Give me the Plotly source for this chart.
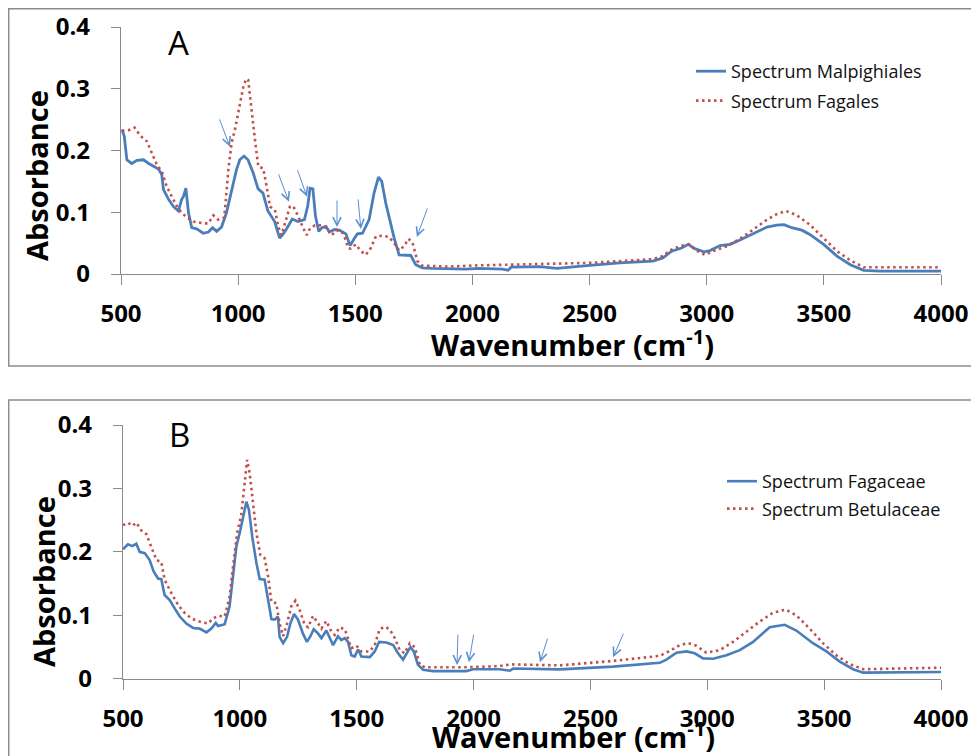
import plotly.graph_objects as go

# ---------------- Panel A data ----------------
malp_x = [504, 514, 525, 546, 568, 596, 618, 639, 660, 674, 681, 703, 724, 745, 759, 766, 777, 788, 802, 823,
          851, 873, 891, 908, 929, 950, 972, 993, 1007, 1025, 1042, 1064, 1085, 1106, 1127, 1156, 1177, 1191, 1205, 1231,
          1255, 1283, 1297, 1307, 1319, 1330, 1344, 1358, 1375, 1389, 1411, 1432, 1460, 1478, 1495, 1509, 1531, 1559, 1580, 1599,
          1613, 1630, 1647, 1666, 1687, 1715, 1737, 1758, 1786, 1829, 1970, 2027, 2130, 2152, 2165, 2288, 2360, 2501, 2629, 2770,
          2813, 2850, 2893, 2921, 2949, 2988, 3014, 3057, 3100, 3142, 3199, 3257, 3299, 3330, 3363, 3406, 3440, 3499, 3556, 3613,
          3670, 3741, 4000]
malp_y = [0.234, 0.223, 0.185, 0.179, 0.184, 0.185, 0.179, 0.174, 0.170, 0.161, 0.137, 0.121, 0.109, 0.102, 0.121, 0.125, 0.139, 0.099, 0.075, 0.073,
          0.066, 0.068, 0.075, 0.069, 0.076, 0.099, 0.137, 0.169, 0.185, 0.191, 0.185, 0.164, 0.138, 0.131, 0.102, 0.085, 0.058, 0.064, 0.072, 0.089,
          0.085, 0.088, 0.110, 0.139, 0.138, 0.094, 0.069, 0.075, 0.077, 0.068, 0.072, 0.071, 0.065, 0.046, 0.057, 0.065, 0.066, 0.088, 0.131, 0.157,
          0.150, 0.115, 0.088, 0.058, 0.031, 0.030, 0.030, 0.015, 0.010, 0.009, 0.008, 0.009, 0.008, 0.006, 0.011, 0.012, 0.009, 0.014, 0.018, 0.021,
          0.026, 0.037, 0.042, 0.048, 0.041, 0.036, 0.038, 0.046, 0.048, 0.055, 0.065, 0.076, 0.079, 0.080, 0.075, 0.071, 0.064, 0.048, 0.029, 0.015,
          0.006, 0.0045, 0.0045]

fag_x = [504, 533, 558, 582, 610, 632, 653, 674, 695, 716, 738, 759, 780, 809, 851, 873, 894, 915, 939, 944,
         958, 972, 986, 1008, 1022, 1034, 1043, 1051, 1062, 1072, 1086, 1107, 1122, 1136, 1157, 1171, 1185, 1200, 1221, 1235,
         1257, 1278, 1293, 1307, 1328, 1357, 1378, 1399, 1421, 1449, 1470, 1481, 1502, 1524, 1545, 1566, 1588, 1616, 1644, 1666,
         1687, 1708, 1727, 1744, 1765, 1786, 1899, 2027, 2158, 2501, 2770, 2813, 2842, 2885, 2925, 2956, 2992, 3028, 3085, 3142,
         3199, 3257, 3299, 3339, 3385, 3440, 3499, 3556, 3613, 3670, 4000]
fag_y = [0.232, 0.233, 0.237, 0.224, 0.215, 0.196, 0.177, 0.166, 0.142, 0.126, 0.110, 0.099, 0.092, 0.085, 0.082, 0.082, 0.095, 0.088, 0.091, 0.104,
         0.168, 0.212, 0.233, 0.276, 0.303, 0.316, 0.314, 0.287, 0.255, 0.217, 0.174, 0.171, 0.141, 0.109, 0.104, 0.077, 0.063, 0.082, 0.109, 0.110,
         0.093, 0.074, 0.063, 0.074, 0.079, 0.079, 0.074, 0.063, 0.071, 0.066, 0.042, 0.041, 0.048, 0.037, 0.031, 0.042, 0.061, 0.062, 0.060, 0.050,
         0.038, 0.045, 0.057, 0.051, 0.021, 0.0135, 0.012, 0.014, 0.015, 0.018, 0.024, 0.029, 0.038, 0.045, 0.048, 0.038, 0.031, 0.037, 0.045, 0.057,
         0.072, 0.088, 0.097, 0.102, 0.095, 0.080, 0.058, 0.037, 0.022, 0.011, 0.011]

# ---------------- Panel B data ----------------
fagac_x = [500, 521, 540, 557, 571, 593, 614, 631, 650, 664, 678, 700, 721, 743, 771, 800, 828, 857, 878, 897,
           907, 935, 956, 971, 985, 1002, 1018, 1028, 1039, 1053, 1071, 1085, 1106, 1121, 1135, 1149, 1163, 1170, 1185, 1202,
           1216, 1232, 1249, 1270, 1287, 1302, 1316, 1335, 1349, 1370, 1387, 1399, 1420, 1434, 1449, 1463, 1477, 1491, 1506, 1520,
           1556, 1577, 1596, 1627, 1656, 1677, 1698, 1715, 1730, 1744, 1762, 1784, 1827, 1969, 1998, 2112, 2155, 2169, 2369, 2597,
           2797, 2825, 2868, 2911, 2946, 2982, 3025, 3082, 3139, 3196, 3267, 3331, 3381, 3452, 3510, 3567, 3624, 3667, 4000]
fagac_y = [0.204, 0.212, 0.209, 0.213, 0.200, 0.198, 0.187, 0.169, 0.158, 0.157, 0.132, 0.124, 0.111, 0.098, 0.087, 0.080, 0.079, 0.073, 0.079, 0.088,
           0.083, 0.086, 0.114, 0.161, 0.208, 0.234, 0.263, 0.279, 0.266, 0.224, 0.182, 0.157, 0.156, 0.124, 0.094, 0.093, 0.098, 0.066, 0.056, 0.066,
           0.087, 0.102, 0.093, 0.071, 0.058, 0.067, 0.078, 0.071, 0.064, 0.076, 0.064, 0.053, 0.067, 0.061, 0.064, 0.058, 0.037, 0.035, 0.046, 0.035,
           0.034, 0.043, 0.058, 0.057, 0.053, 0.040, 0.030, 0.040, 0.050, 0.043, 0.022, 0.014, 0.012, 0.012, 0.015, 0.015, 0.0126, 0.016, 0.0147, 0.019,
           0.025, 0.030, 0.041, 0.043, 0.040, 0.032, 0.0315, 0.037, 0.045, 0.058, 0.081, 0.085, 0.076, 0.056, 0.043, 0.027, 0.015, 0.0095, 0.0105]

betul_x = [500, 521, 540, 557, 578, 600, 621, 643, 664, 678, 700, 728, 757, 792, 828, 864, 885, 907, 935, 956,
           971, 988, 1006, 1021, 1031, 1042, 1056, 1071, 1088, 1106, 1121, 1135, 1156, 1170, 1185, 1202, 1220, 1238, 1256, 1277,
           1292, 1313, 1335, 1349, 1370, 1392, 1406, 1427, 1449, 1463, 1477, 1499, 1520, 1556, 1577, 1598, 1620, 1641, 1663, 1684,
           1705, 1727, 1748, 1770, 1791, 1969, 2112, 2162, 2369, 2597, 2797, 2840, 2882, 2918, 2953, 2996, 3053, 3110, 3167, 3224,
           3281, 3335, 3381, 3438, 3495, 3552, 3609, 3667, 4000]
betul_y = [0.242, 0.246, 0.241, 0.246, 0.234, 0.228, 0.208, 0.187, 0.184, 0.156, 0.140, 0.121, 0.106, 0.095, 0.090, 0.087, 0.095, 0.099, 0.098, 0.129,
           0.177, 0.229, 0.258, 0.313, 0.345, 0.324, 0.282, 0.229, 0.195, 0.190, 0.161, 0.121, 0.119, 0.087, 0.067, 0.087, 0.114, 0.123, 0.108, 0.085,
           0.081, 0.099, 0.087, 0.079, 0.091, 0.074, 0.069, 0.081, 0.078, 0.064, 0.048, 0.052, 0.043, 0.043, 0.053, 0.078, 0.082, 0.078, 0.064, 0.045,
           0.040, 0.056, 0.050, 0.022, 0.018, 0.018, 0.020, 0.0226, 0.021, 0.028, 0.036, 0.044, 0.053, 0.056, 0.052, 0.041, 0.045, 0.058, 0.074, 0.090,
           0.104, 0.109, 0.100, 0.079, 0.056, 0.037, 0.023, 0.015, 0.0173]

# arrow markers: (head wavenumber, head absorbance, tail dx px, tail dy px)
arrows_a_x = [965, 1217, 1294, 1422, 1524, 1763]
arrows_a_y = [0.206, 0.117, 0.125, 0.076, 0.073, 0.060]
arrows_a_dx = [-11, -11, -10, 0, -3, 11]
arrows_a_dy = [-29, -29, -28, -28, -31, -30]
arrows_b_x = [1929, 1980, 2284, 2597]
arrows_b_y = [0.0216, 0.026, 0.026, 0.034]
arrows_b_dx = [1, 5, 8, 11]
arrows_b_dy = [-32, -29, -25, -25]

x_ticks = [500, 1000, 1500, 2000, 2500, 3000, 3500, 4000]
y_ticks = [0, 0.1, 0.2, 0.3, 0.4]
y_tick_text = ["0", "0.1", "0.2", "0.3", "0.4"]

BLUE = "#4a7ebb"
RED = "#c0504d"
AXC = "#8a8a8a"
W, H = 979, 756
OFF = 8  # page body margin offset


def fx(xp):
    return (xp - OFF) / W


def fy(yp):
    return 1 - (yp - OFF) / H


fig = go.Figure()
fig.add_trace(go.Scatter(x=malp_x, y=malp_y, mode="lines", name="Spectrum Malpighiales",
                         line=dict(color=BLUE, width=2.8), xaxis="x", yaxis="y",
                         legend="legend", legendgroup="a1"))
fig.add_trace(go.Scatter(x=fag_x, y=fag_y, mode="lines", name="Spectrum Fagales",
                         line=dict(color=RED, width=2.6, dash="2.5px,3.5px"), xaxis="x", yaxis="y",
                         legend="legend", legendgroup="a2"))
fig.add_trace(go.Scatter(x=fagac_x, y=fagac_y, mode="lines", name="Spectrum Fagaceae",
                         line=dict(color=BLUE, width=2.6), xaxis="x2", yaxis="y2",
                         legend="legend2", legendgroup="b1"))
fig.add_trace(go.Scatter(x=betul_x, y=betul_y, mode="lines", name="Spectrum Betulaceae",
                         line=dict(color=RED, width=2.6, dash="2.5px,3.5px"), xaxis="x2", yaxis="y2",
                         legend="legend2", legendgroup="b2"))

tickfont = dict(family="Open Sans", size=24, color="black", weight="bold")
common_x = dict(range=[500, 4000], tickvals=x_ticks, showgrid=False, zeroline=False, showline=True,
                linecolor=AXC, linewidth=1.3, ticks="outside", ticklen=10, tickcolor=AXC, tickwidth=1.3,
                tickfont=tickfont, ticklabelstandoff=8, automargin=False)
common_y = dict(range=[0, 0.4], tickvals=y_ticks, ticktext=y_tick_text, showgrid=False, zeroline=False,
                showline=True, linecolor=AXC, linewidth=1.3, ticks="outside", ticklen=9, tickcolor=AXC,
                tickwidth=1.3, tickfont=tickfont, ticklabelstandoff=16, automargin=False)

annotations = []
for hx, hy, dx, dy in zip(arrows_a_x, arrows_a_y, arrows_a_dx, arrows_a_dy):
    annotations.append(dict(x=hx, y=hy, xref="x", yref="y", ax=dx, ay=dy, text="", showarrow=True,
                            arrowhead=5, arrowsize=1.6, arrowwidth=1, arrowcolor="#5b8fd0"))
for hx, hy, dx, dy in zip(arrows_b_x, arrows_b_y, arrows_b_dx, arrows_b_dy):
    annotations.append(dict(x=hx, y=hy, xref="x2", yref="y2", ax=dx, ay=dy, text="", showarrow=True,
                            arrowhead=5, arrowsize=1.6, arrowwidth=1, arrowcolor="#5b8fd0"))

title_font = dict(family="Open Sans", size=29, color="black", weight="bold")

for (xp, yp) in [(572, 343), (573, 735)]:
    annotations.append(dict(x=fx(xp), y=fy(yp), xref="paper", yref="paper", showarrow=False,
                            text="Wavenumber (cm<sup>-1</sup>)", font=title_font,
                            xanchor="center", yanchor="middle"))
for (xp, yp) in [(36, 176), (43, 582)]:
    annotations.append(dict(x=fx(xp), y=fy(yp), xref="paper", yref="paper", showarrow=False,
                            text="Absorbance", textangle=-90, font=title_font,
                            xanchor="center", yanchor="middle"))
for (lab, xp, yp) in [("A", 178, 43), ("B", 179, 435)]:
    annotations.append(dict(x=fx(xp), y=fy(yp), xref="paper", yref="paper", showarrow=False,
                            text=lab, font=dict(family="Open Sans", size=33, color="black"),
                            xanchor="center", yanchor="middle"))

shapes = [
    dict(type="rect", xref="paper", yref="paper", x0=fx(8.7), x1=1.05, y0=fy(366), y1=fy(8.7),
         line=dict(color="#8c8c8c", width=1.5)),
    dict(type="rect", xref="paper", yref="paper", x0=fx(8.7), x1=1.05, y0=-0.05, y1=fy(400),
         line=dict(color="#8c8c8c", width=1.5)),
]

legend_font = dict(family="Open Sans", size=18, color="#111111")
fig.update_layout(
    width=W, height=H, margin=dict(l=0, r=0, t=0, b=0, pad=0, autoexpand=False),
    paper_bgcolor="white", plot_bgcolor="white",
    xaxis=dict(domain=[fx(121), fx(941)], anchor="y", **common_x),
    yaxis=dict(domain=[fy(274), fy(27)], anchor="x", **common_y),
    xaxis2=dict(domain=[fx(123), fx(941)], anchor="y2", **common_x),
    yaxis2=dict(domain=[fy(678.7), fy(425)], anchor="x2", **common_y),
    legend=dict(x=fx(732 - 41), y=fy(53), xanchor="left", yanchor="top", font=legend_font,
                bgcolor="rgba(0,0,0,0)", tracegroupgap=3, traceorder="grouped"),
    legend2=dict(x=fx(763 - 41), y=fy(463), xanchor="left", yanchor="top", font=legend_font,
                 bgcolor="rgba(0,0,0,0)", tracegroupgap=1, traceorder="grouped"),
    annotations=annotations, shapes=shapes, showlegend=True,
)

fig.write_html("out.html")
